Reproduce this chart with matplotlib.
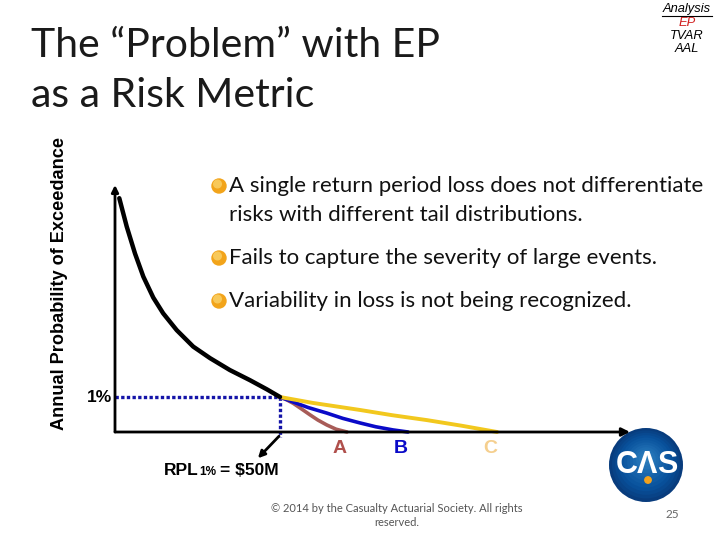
import matplotlib
matplotlib.use('Agg')
import matplotlib.pyplot as plt
import numpy as np
from matplotlib.patches import Circle

# EP curve: loss ($M) vs annual probability of exceedance (%)
ep_loss = [1.3, 3.55, 6.06, 8.58, 11.6, 14.6, 18.7, 23.7, 28.8, 34.8, 40.9, 46.0, 50.0]
ep_prob = [6.68, 5.87, 5.10, 4.44, 3.84, 3.39, 2.91, 2.44, 2.11, 1.77, 1.48, 1.22, 1.0]

# three tails beyond the 1% point
tail_a_loss = [50.0, 52.0, 54.0, 56.5, 59.1, 61.5, 64.2, 67.0, 70.3]
tail_a_prob = [1.0, 0.92, 0.82, 0.66, 0.49, 0.34, 0.20, 0.08, 0.0]
tail_b_loss = [50.0, 53.9, 58.5, 64.2, 69.0, 74.2, 79.0, 84.2, 88.8]
tail_b_prob = [1.0, 0.86, 0.70, 0.54, 0.39, 0.26, 0.15, 0.06, 0.0]
tail_c_loss = [50.0, 60.0, 74.2, 84.0, 94.5, 105.0, 115.8]
tail_c_prob = [1.0, 0.83, 0.63, 0.48, 0.34, 0.18, 0.0]
tail_names = ['A', 'B', 'C']

rpl_loss = 50.0
rpl_prob = 1.0

bullets = [
    "A single return period loss does not differentiate\nrisks with different tail distributions.",
    "Fails to capture the severity of large events.",
    "Variability in loss is not being recognized.",
]
menu = ['Analysis', 'EP', 'TVAR', 'AAL']

W, H = 720, 540
fig = plt.figure(figsize=(7.2, 5.4), dpi=100)
fig.patch.set_facecolor('white')

# overlay in pixel units for slide decoration
ov = fig.add_axes([0, 0, 1, 1])
ov.set_xlim(0, W)
ov.set_ylim(H, 0)
ov.axis('off')

# chart axes
ax = fig.add_axes([115 / W, 1 - 432 / H, 515 / W, 247 / H])
ax.set_xlim(0, 515 / 3.3)
ax.set_ylim(0, 247 / 35)
ax.axis('off')

ax.annotate('', xy=(1, 0), xytext=(0, 0), xycoords='axes fraction',
            arrowprops=dict(arrowstyle='-|>', color='black', lw=2.0,
                            mutation_scale=12, shrinkA=0, shrinkB=0))
ax.annotate('', xy=(0, 1), xytext=(0, 0), xycoords='axes fraction',
            arrowprops=dict(arrowstyle='-|>', color='black', lw=2.0,
                            mutation_scale=10, shrinkA=0, shrinkB=0))

dot_col = '#1414a8'
ax.plot([0, rpl_loss], [rpl_prob, rpl_prob], color=dot_col, lw=2.4,
        linestyle=(0, (1, 0.7)), clip_on=False)
ax.plot([rpl_loss, rpl_loss], [rpl_prob, -0.15], color=dot_col, lw=2.4,
        linestyle=(0, (1, 0.7)), clip_on=False)

ax.plot(tail_a_loss, tail_a_prob, color='#a85c58', lw=2.6, solid_capstyle='round', clip_on=False)
ax.plot(tail_b_loss, tail_b_prob, color='#0a0ac8', lw=2.6, solid_capstyle='round', clip_on=False)
ax.plot(tail_c_loss, tail_c_prob, color='#f2c81e', lw=2.8, solid_capstyle='round', clip_on=False)
ax.plot(ep_loss, ep_prob, color='black', lw=3.2, solid_capstyle='round',
        solid_joinstyle='round', clip_on=False)

label_cols = ['#b0504c', '#0a0ac8', '#f5cf8e']
for name, end, col in zip(tail_names, [tail_a_loss[-1], tail_b_loss[-1], tail_c_loss[-1]], label_cols):
    ax.text(end - 2.2, -0.47, name, color=col, fontsize=14, fontweight='bold',
            family='Liberation Sans', ha='center', va='center', clip_on=False)

ax.annotate('', xy=(rpl_loss - 6.7, -0.75), xytext=(rpl_loss - 0.3, -0.12),
            arrowprops=dict(arrowstyle='-|>', color='black', lw=2.0,
                            mutation_scale=10, shrinkA=0, shrinkB=0),
            annotation_clip=False)

ax.text(-1.0, rpl_prob, '1%', ha='right', va='center', fontsize=12.5,
        fontweight='bold', family='Liberation Sans', clip_on=False)

# RPL label
ov.text(164, 475, 'RPL', fontsize=12.5, fontweight='bold', family='Liberation Sans',
        ha='left', va='baseline')
ov.text(199, 475, '1%', fontsize=8.5, fontweight='bold', family='Liberation Sans',
        ha='left', va='baseline')
ov.text(220, 475, '= $50M', fontsize=12.5, fontweight='bold', family='Liberation Sans',
        ha='left', va='baseline')

# y label
ov.text(60, 283, 'Annual Probability of Exceedance', rotation=90, fontsize=13.1,
        fontweight='bold', family='Liberation Sans', ha='center', va='center')

# title
ov.text(31, 57, 'The \u201cProblem\u201d with EP', fontsize=29.5, family='Lato',
        ha='left', va='baseline', color='#1a1a1a')
ov.text(31, 107, 'as a Risk Metric', fontsize=29.5, family='Lato',
        ha='left', va='baseline', color='#1a1a1a')

# bullets
bullet_y = [186, 258, 301]
for by, txt in zip(bullet_y, bullets):
    ov.add_patch(Circle((219, by), 7, color='#f2a41a', zorder=3))
    ov.add_patch(Circle((217.5, by - 2), 3.8, color='#f8c95a', zorder=4))
    lines = txt.split('\n')
    for j, ln in enumerate(lines):
        ov.text(229, by + 29 * j, ln, fontsize=16, family='Lato', ha='left',
                va='center', color='#111111')

# top-right menu
menu_y = [9, 23, 36, 49]
for item, my in zip(menu, menu_y):
    col = '#d02020' if item == 'EP' else 'black'
    ov.text(687, my, item, fontsize=9.3, style='italic', family='Liberation Sans',
            ha='center', va='center', color=col)
ov.plot([662, 712], [15.8, 15.8], color='black', lw=0.8)

# footer
ov.text(397, 508, '\u00a9 2014 by the Casualty Actuarial Society. All rights',
        fontsize=8, family='Lato', ha='center', va='center', color='#555555')
ov.text(397, 522, 'reserved.',
        fontsize=8, family='Lato', ha='center', va='center', color='#555555')
ov.text(672, 515, '25', fontsize=8.5, family='Lato', ha='center', va='center', color='#666666')

# CAS logo (radial shading)
for r, c in zip(np.linspace(37, 4, 12), plt.cm.Blues(np.linspace(0.95, 0.7, 12))):
    ov.add_patch(Circle((646, 465 - (37 - r) * 0.2), r, color=c, lw=0))
for ch, cx in zip(['C', '\u039b', 'S'], [627, 647, 667]):
    ov.text(cx, 465, ch, fontsize=22, fontweight='bold', family='Liberation Sans',
            ha='center', va='center', color='white')
ov.add_patch(Circle((648, 480), 3.2, color='#f3a21d'))

fig.savefig('out.png', dpi=100, facecolor='white')
